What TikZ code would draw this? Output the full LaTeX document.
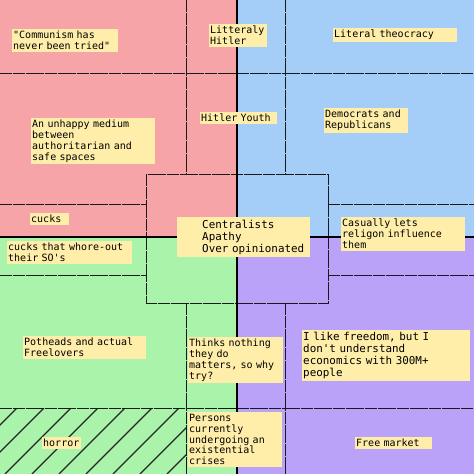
\documentclass[tikz,border=0pt]{standalone}
\usepackage{fontspec}
\setmonofont{DejaVu Sans Mono}
\usepackage{xcolor}
\definecolor{authleft}{RGB}{247,164,169}
\definecolor{authright}{RGB}{164,205,248}
\definecolor{libleft}{RGB}{170,243,170}
\definecolor{libright}{RGB}{185,162,248}
\definecolor{notefill}{RGB}{255,238,170}
\tikzset{
  quadrant/.style={draw=none},
  cellline/.style={draw=black!90,line width=0.9pt,dash pattern=on 6pt off 0.4pt},
  axisline/.style={draw=black,line width=1.8pt},
  hatchline/.style={draw=black!85,line width=1.1pt},
  notebox/.style={rectangle,fill=notefill,anchor=north west,align=left,inner xsep=1pt,inner ysep=2pt,font=\ttfamily\fontsize{10}{10.8}\selectfont},
  bignote/.style={notebox,inner ysep=2.6pt,font=\ttfamily\fontsize{10.9}{12}\selectfont}
}
\begin{document}
\begin{tikzpicture}[x=1pt,y=-1pt]
  \useasboundingbox (0,0) rectangle (474,474);
  \fill[authleft] (0,0) rectangle (237,237);
  \fill[authright] (237,0) rectangle (474,237);
  \fill[libleft] (0,237) rectangle (237,474);
  \fill[libright] (237,237) rectangle (474,474);

  \begin{scope}
    \clip (0,408) rectangle (186,474);
    \foreach \c in {398,425,...,668}
      \draw[hatchline] (\c-474,474) -- (\c-408,408);
  \end{scope}

  \draw[cellline] (0,73) -- (474,73);
  \draw[cellline] (186,0) -- (186,174);
  \draw[cellline] (285,0) -- (285,174);
  \draw[cellline] (146,174) rectangle (328,303);
  \draw[cellline] (0,204) -- (146,204);
  \draw[cellline] (0,275) -- (146,275);
  \draw[cellline] (328,204) -- (474,204);
  \draw[cellline] (328,275) -- (474,275);
  \draw[cellline] (186,303) -- (186,474);
  \draw[cellline] (285,303) -- (285,474);
  \draw[cellline] (0,408) -- (474,408);

  \draw[axisline] (237,0) -- (237,474);
  \draw[axisline] (0,237) -- (474,237);

  \node[notebox,text width=104pt] (tried) at (12,29) {"Communism has\\never been tried"};
  \node[notebox,text width=56pt] (hitler) at (209,24) {Litteraly\\Hitler};
  \node[notebox,text width=122pt] (theocracy) at (333,28) {Literal theocracy};
  \node[notebox,text width=122pt] (medium) at (31,118) {An unhappy medium\\between\\authoritarian and\\safe spaces};
  \node[notebox,text width=75pt] (youth) at (200,112) {Hitler Youth};
  \node[notebox,text width=82pt] (parties) at (324,108) {Democrats and\\Republicans};
  \node[notebox,text width=37pt] (cucks) at (30,213) {cucks};
  \node[bignote,text width=131pt] (centre) at (177,217) {\hspace*{24pt}Centralists\\\hspace*{24pt}Apathy\\\hspace*{24pt}Over opinionated};
  \node[notebox,text width=122pt] (religion) at (341,217) {Casually lets\\religon influence\\them};
  \node[notebox,text width=123pt] (whoreout) at (7,241) {cucks that whore-out\\their SO's};
  \node[notebox,text width=121pt] (potheads) at (23,336) {Potheads and actual\\Freelovers};
  \node[notebox,text width=93pt] (nihil) at (188,337) {Thinks nothing\\they do\\matters, so why\\try?};
  \node[bignote,inner ysep=2.2pt,text width=166pt] (freedom) at (302,330) {I like freedom, but I\\don't understand\\economics with 300M+\\people};
  \node[notebox,text width=37pt] (horror) at (42,437) {horror};
  \node[notebox,text width=92pt] (crisis) at (188,412) {Persons\\currently\\undergoing an\\existential\\crises};
  \node[notebox,text width=75pt] (market) at (355,437) {Free market};
\end{tikzpicture}
\end{document}
